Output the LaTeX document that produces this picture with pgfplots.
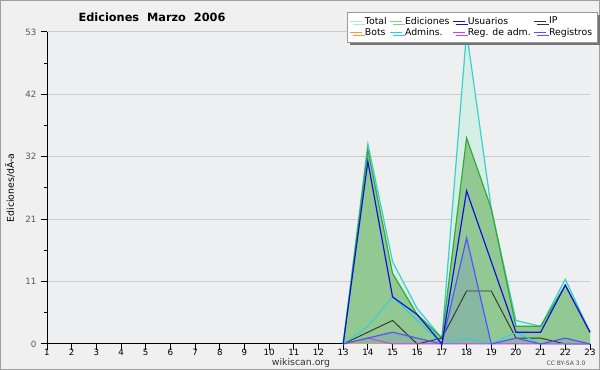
\documentclass[border=0pt]{standalone}
\usepackage{fontspec}
\setmainfont{DejaVu Sans}
\usepackage{pgfplots}
\usepackage{pgfplotstable}
\pgfplotsset{compat=1.18}
\usetikzlibrary{shadows}
\definecolor{bg}{HTML}{F0F0F0}
\definecolor{plotbg}{HTML}{EEEFF0}
\definecolor{framec}{HTML}{A0A0A0}
\definecolor{gridc}{HTML}{CCCCCC}
\definecolor{totline}{HTML}{3CCFCF}
\definecolor{totleg}{HTML}{AAE8E8}
\definecolor{totfill}{HTML}{D6EFE6}
\definecolor{edline}{HTML}{33AA33}
\definecolor{edleg}{HTML}{88CC88}
\definecolor{edfill}{HTML}{92C992}
\definecolor{usc}{HTML}{1111DD}
\definecolor{ipc}{HTML}{333333}
\definecolor{botc}{HTML}{FF9933}
\definecolor{admc}{HTML}{33CCDD}
\definecolor{radc}{HTML}{CC44DD}
\definecolor{regc}{HTML}{5555FF}
\pgfplotstableread{
day total ed us ip bots adm regadm reg
13 0 0 0 0 0 0 0 0
14 34 33 31 2 0 3 1 1
15 14 12 8 4 0 8 0 2
16 6 5 5 0 0 4 0 1
17 1 1 0 1 0 0 0 0
18 53 35 26 9 0 1 0 18
19 23 23 14 9 0 0 0 0
20 4 3 2 1 0 2 0 1
21 3 3 2 1 0 0 0 0
22 11 10 10 0 0 0 0 1
23 2 2 2 0 0 0 0 0
}\data
\begin{document}
\begin{tikzpicture}[x=0.75pt,y=0.75pt]
\useasboundingbox (0,0) rectangle (600,370);
\fill[bg] (0,0) rectangle (600,370);
\draw[framec, line width=0.75pt] (0.5,0.5) rectangle (599.5,369.5);
\begin{axis}[
  at={(35.25pt,19.5pt)}, anchor=south west,
  scale only axis, width=407.25pt, height=234pt,
  xmin=1, xmax=23, ymin=0, ymax=53,
  clip=false,
  axis lines*=left,
  axis line style={black, line width=0.75pt},
  axis background/.style={fill=plotbg},
  xtick={1,...,23},
  ytick={0,10.6,21.2,31.8,42.4,53},
  yticklabels={0,11,21,32,42,53},
  minor ytick={5.3,15.9,26.5,37.1,47.7},
  ymajorgrids, grid style={gridc, line width=0.75pt},
  tick align=outside,
  major tick length=4.5pt, minor tick length=2.25pt,
  tick style={black, line width=0.75pt},
  /pgf/number format/assume math mode=true,
  x tick label style={font=\fontsize{6.5}{7}\selectfont, text=black, yshift=4pt},
  y tick label style={font=\fontsize{6.5}{7}\selectfont, text=black!65},
  legend columns=4,
  legend cell align=left,
  legend style={at={(0.5525,1.064)}, anchor=north west,
    font=\fontsize{7}{7.5}\selectfont, draw=black!40, fill=white,
    drop shadow={shadow xshift=2.25pt, shadow yshift=-2.25pt, fill=black!55, opacity=1},
    inner xsep=1.5pt, inner ysep=1.5pt, row sep=-2.5pt,
    nodes={inner xsep=2pt},
    /tikz/every even column/.append style={column sep=0pt}},
  legend image code/.code={\draw[#1, line width=0.75pt] (0pt,0pt) -- (9pt,0pt);},
]
% fills
\addplot[fill=totfill, draw=none, forget plot] table[x=day,y=total]{\data} \closedcycle;
\addplot[fill=edfill, draw=none, forget plot] table[x=day,y=ed]{\data} \closedcycle;
\addplot[fill=regc, fill opacity=0.15, draw=none, forget plot] table[x=day,y=reg]{\data} \closedcycle;
% lines
\addplot[totline, line width=0.9pt, forget plot] table[x=day,y=total]{\data};
\addplot[edline, line width=0.9pt, forget plot] table[x=day,y=ed]{\data};
\addplot[botc, line width=0.75pt, forget plot] table[x=day,y=bots]{\data};
\addplot[ipc, line width=0.7pt, forget plot] table[x=day,y=ip]{\data};
\addplot[admc, line width=0.75pt, forget plot] table[x=day,y=adm]{\data};
\addplot[radc, line width=0.75pt, forget plot] table[x=day,y=regadm]{\data};
\addplot[regc, line width=0.9pt, forget plot] table[x=day,y=reg]{\data};
\addplot[usc, line width=0.9pt, forget plot] table[x=day,y=us]{\data};
% legend
\addlegendimage{totleg}\addlegendentry{Total}
\addlegendimage{edleg}\addlegendentry{Ediciones}
\addlegendimage{usc}\addlegendentry{Usuarios}
\addlegendimage{ipc}\addlegendentry{IP}
\addlegendimage{botc}\addlegendentry{Bots}
\addlegendimage{admc}\addlegendentry{Admins.}
\addlegendimage{radc}\addlegendentry{Reg. de adm.}
\addlegendimage{regc}\addlegendentry{Registros}
\end{axis}
\node[font=\bfseries\fontsize{8.5}{10}\selectfont] at (152,353) {Ediciones\ \ Marzo\ \ 2006};
\node[font=\fontsize{7}{8}\selectfont, rotate=90] at (10,182) {Ediciones/dÃ-a};
\node[font=\fontsize{7}{8}\selectfont, text=black!80] at (301,7.5) {wikiscan.org};
\node[font=\fontsize{4.5}{5}\selectfont, text=black!70] at (566,7) {CC BY-SA 3.0};
\end{tikzpicture}
\end{document}
